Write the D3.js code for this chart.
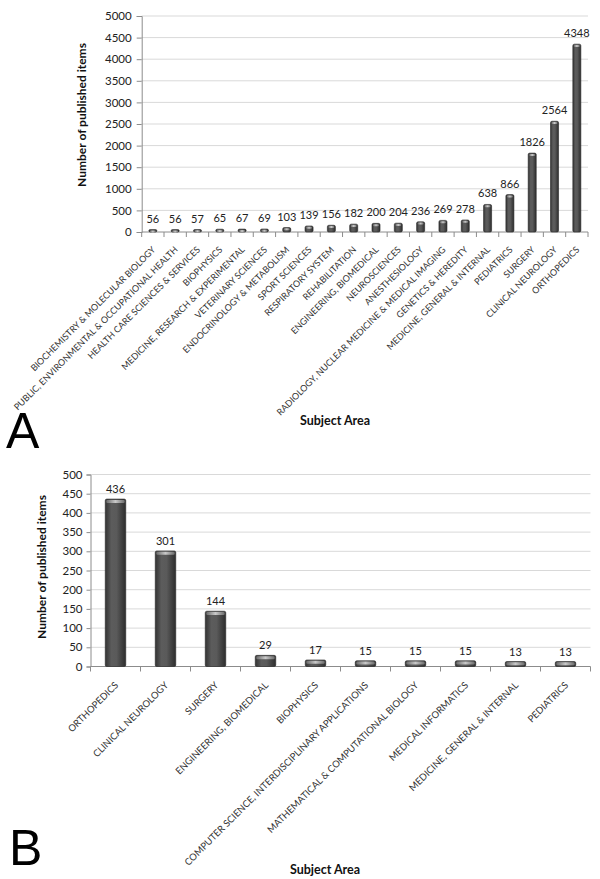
<!DOCTYPE html>
<html><head><meta charset="utf-8">
<script src="https://cdn.jsdelivr.net/npm/d3@7"></script>
<style>body{margin:0;background:#fff}svg{display:block}</style>
</head><body>
<svg id="c" width="600" height="879"></svg>
<script>
const catsA = ["BIOCHEMISTRY & MOLECULAR BIOLOGY","PUBLIC, ENVIRONMENTAL & OCCUPATIONAL HEALTH","HEALTH CARE SCIENCES & SERVICES","BIOPHYSICS","MEDICINE, RESEARCH & EXPERIMENTAL","VETERINARY SCIENCES","ENDOCRINOLOGY & METABOLISM","SPORT SCIENCES","RESPIRATORY SYSTEM","REHABILITATION","ENGINEERING, BIOMEDICAL","NEUROSCIENCES","ANESTHESIOLOGY","RADIOLOGY, NUCLEAR MEDICINE & MEDICAL IMAGING","GENETICS & HEREDITY","MEDICINE, GENERAL & INTERNAL","PEDIATRICS","SURGERY","CLINICAL NEUROLOGY","ORTHOPEDICS"];
const valsA = [56,56,57,65,67,69,103,139,156,182,200,204,236,269,278,638,866,1826,2564,4348];
const ticksA = [0,500,1000,1500,2000,2500,3000,3500,4000,4500,5000];

const catsB = ["ORTHOPEDICS","CLINICAL NEUROLOGY","SURGERY","ENGINEERING, BIOMEDICAL","BIOPHYSICS","COMPUTER SCIENCE, INTERDISCIPLINARY APPLICATIONS","MATHEMATICAL & COMPUTATIONAL BIOLOGY","MEDICAL INFORMATICS","MEDICINE, GENERAL & INTERNAL","PEDIATRICS"];
const valsB = [436,301,144,29,17,15,15,15,13,13];
const ticksB = [0,50,100,150,200,250,300,350,400,450,500];

const svg = d3.select("#c");
const defs = svg.append("defs");
const g1 = defs.append("linearGradient").attr("id","barG").attr("x1","0").attr("x2","1").attr("y1","0").attr("y2","0");
[[0,"#333333"],[0.3,"#5c5c5c"],[0.55,"#5a5a5a"],[1,"#2d2d2d"]].forEach(s=>g1.append("stop").attr("offset",s[0]).attr("stop-color",s[1]));
const g2 = defs.append("linearGradient").attr("id","capG").attr("x1","0").attr("x2","1").attr("y1","0").attr("y2","0");
[[0,"#6a6a6a"],[0.5,"#c9c9c9"],[1,"#6a6a6a"]].forEach(s=>g2.append("stop").attr("offset",s[0]).attr("stop-color",s[1]));

const FONT = "Lato, 'Open Sans', sans-serif";

function chart(o){
  const g = svg.append("g");
  const x = d3.scaleBand().domain(o.cats).range([o.x0,o.x1]).paddingInner(o.pad).paddingOuter(o.pad/2);
  const xb = d3.scaleBand().domain(o.cats).range([o.x0,o.x1]);
  const y = d3.scaleLinear().domain([0,o.ticks[o.ticks.length-1]]).range([o.y0,o.y1]);
  g.append("g").selectAll("line").data(o.ticks.slice(1)).join("line")
    .attr("x1",o.x0).attr("x2",o.x1).attr("y1",d=>y(d)).attr("y2",d=>y(d))
    .attr("stroke","#d9d9d9").attr("stroke-width",1);
  const ya = g.append("g").attr("transform",`translate(${o.x0},0)`)
    .call(d3.axisLeft(y).tickValues(o.ticks).tickSize(o.tks).tickPadding(o.tkp).tickFormat(d3.format("d")));
  ya.select(".domain").attr("stroke","#8c8c8c");
  ya.selectAll(".tick line").attr("stroke","#8c8c8c");
  ya.selectAll("text").attr("font-family",FONT).attr("font-size",o.tickFs).attr("fill","#222");
  g.append("line").attr("x1",o.x0).attr("x2",o.x1).attr("y1",o.y0).attr("y2",o.y0).attr("stroke","#8c8c8c");
  g.append("g").selectAll("line").data(o.cats.concat(["__end"])).join("line")
    .attr("x1",(d,i)=>o.x0+i*xb.bandwidth()).attr("x2",(d,i)=>o.x0+i*xb.bandwidth())
    .attr("y1",o.y0).attr("y2",o.y0+5).attr("stroke","#8c8c8c");
  const bars = g.append("g").selectAll("g").data(o.cats).join("g");
  bars.append("rect").attr("x",d=>x(d)).attr("width",x.bandwidth())
    .attr("y",(d,i)=>y(o.vals[i])).attr("height",(d,i)=>o.y0-y(o.vals[i]))
    .attr("rx",1.5).attr("fill","url(#barG)").attr("stroke","#262626").attr("stroke-width",0.6);
  bars.append("rect").attr("x",d=>x(d)+1).attr("width",x.bandwidth()-2)
    .attr("y",(d,i)=>y(o.vals[i])+0.8).attr("height",o.capH).attr("rx",1.2)
    .attr("fill","url(#capG)");
  g.append("g").selectAll("text").data(o.cats).join("text")
    .attr("x",d=>x(d)+x.bandwidth()/2).attr("y",(d,i)=>y(o.vals[i])-o.valGap)
    .attr("text-anchor","middle").attr("font-family",FONT).attr("font-size",o.valFs).attr("fill","#222")
    .text((d,i)=>o.vals[i]);
  g.append("g").selectAll("text").data(o.cats).join("text")
    .attr("transform",d=>`translate(${xb(d)+xb.bandwidth()/2+o.lx},${o.y0+o.ly}) rotate(${o.rot})`)
    .attr("text-anchor","end").attr("dy","0.35em")
    .attr("font-family",FONT).attr("font-size",o.catFs).attr("fill","#333")
    .text(d=>d);
  g.append("text").attr("transform",`translate(${o.ytx},${o.yty}) rotate(-90)`)
    .attr("text-anchor","middle").attr("font-family",FONT).attr("font-weight","bold")
    .attr("font-size",12).attr("fill","#111").text("Number of published items");
  g.append("text").attr("x",o.xtx).attr("y",o.xty).attr("text-anchor","middle")
    .attr("font-family",FONT).attr("font-weight","bold").attr("font-size",12.5).attr("fill","#111").text("Subject Area");
  g.append("text").attr("x",o.lettX).attr("y",o.lettY).attr("font-family","'Liberation Sans', Arial, sans-serif")
    .attr("font-size",50).attr("fill","#000").text(o.letter);
}

chart({cats:catsA, vals:valsA, ticks:ticksA, x0:141.7, x1:588, y0:232, y1:16, pad:0.64,
  tks:5, tkp:5, tickFs:11.5, valFs:11, catFs:9.0, rot:-45, lx:1, ly:16, capH:2, valGap:7,
  ytx:86, yty:115, xtx:335, xty:425, lettX:6, lettY:448, letter:"A"});
chart({cats:catsB, vals:valsB, ticks:ticksB, x0:90.5, x1:590.5, y0:666.5, y1:474.5, pad:0.59,
  tks:4, tkp:4, tickFs:11.5, valFs:11, catFs:9.5, rot:-45, lx:1, ly:17, capH:3, valGap:6,
  ytx:46, yty:567, xtx:325, xty:874, lettX:9, lettY:865, letter:"B"});
</script>
</body></html>
